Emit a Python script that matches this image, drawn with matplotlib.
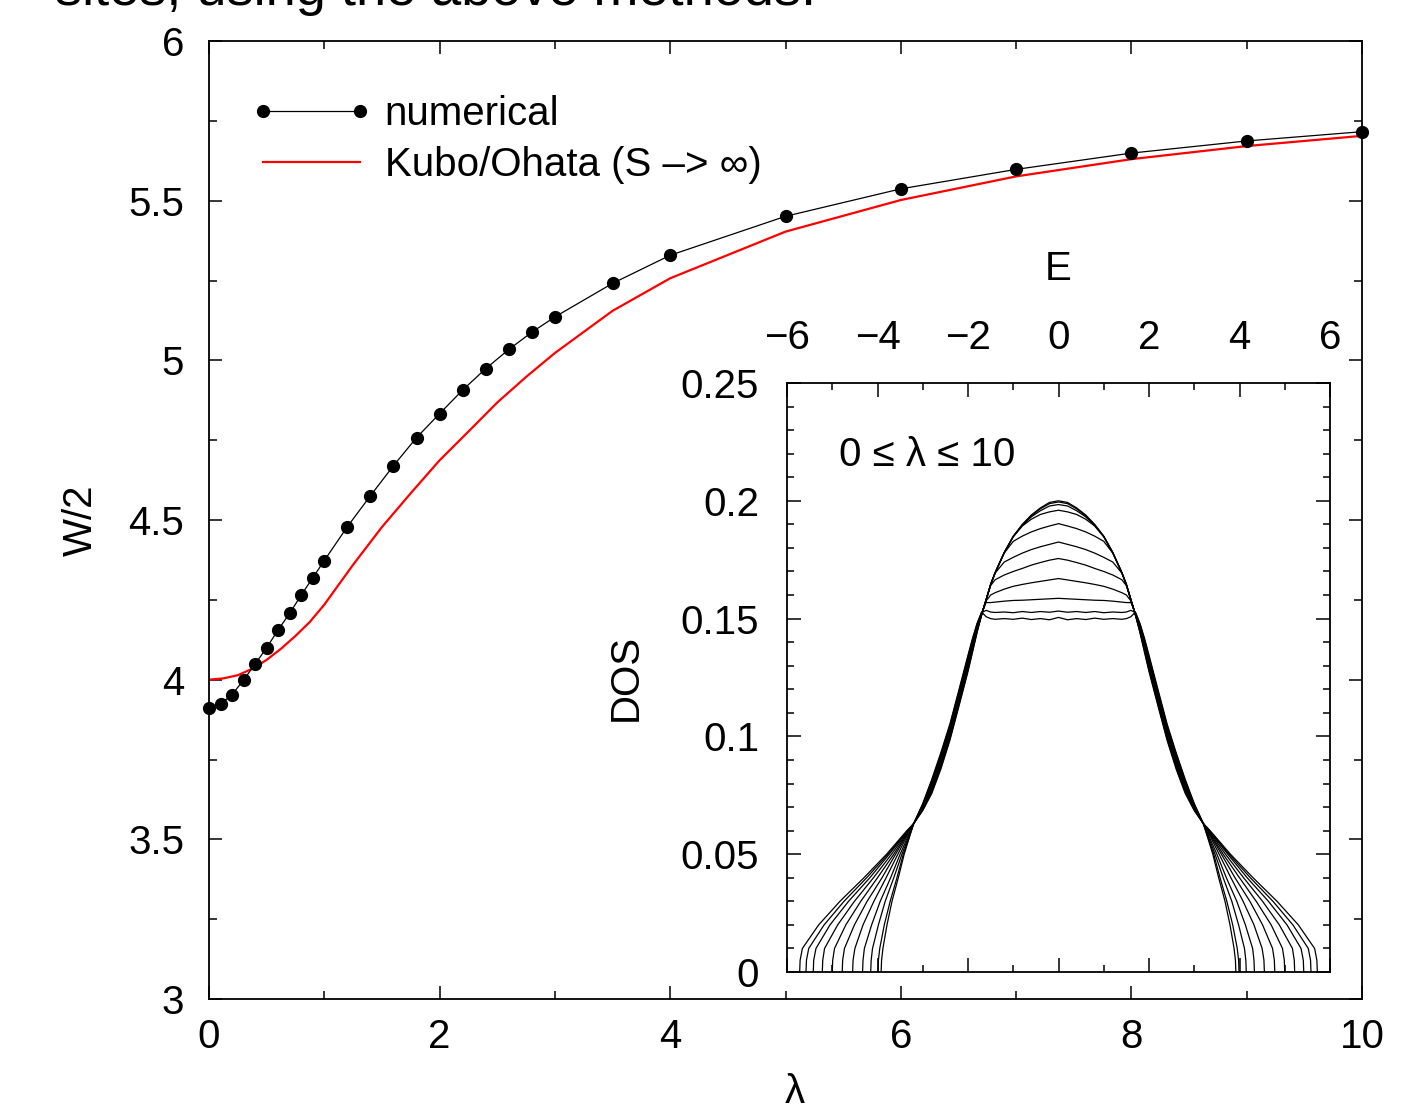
import numpy as np
import matplotlib
matplotlib.use('Agg')
import matplotlib.pyplot as plt
from matplotlib.ticker import MultipleLocator, FixedLocator, FixedFormatter

plt.rcParams['font.family'] = ['Liberation Sans', 'DejaVu Sans']

# ---------------- main panel data ----------------
lam_num = [0, 0.1, 0.2, 0.3, 0.4, 0.5, 0.6, 0.7, 0.8, 0.9, 1.0, 1.2, 1.4, 1.6, 1.8,
           2.0, 2.2, 2.4, 2.6, 2.8, 3.0, 3.5, 4, 5, 6, 7, 8, 9, 10]
w_num = [3.912, 3.924, 3.953, 3.999, 4.049, 4.100, 4.156, 4.208, 4.265, 4.319, 4.373,
         4.479, 4.576, 4.670, 4.758, 4.833, 4.907, 4.974, 5.034, 5.088, 5.136, 5.241,
         5.329, 5.451, 5.537, 5.598, 5.649, 5.687, 5.716]

lam_ko = [0, 0.125, 0.25, 0.375, 0.5, 0.625, 0.75, 0.875, 1.0, 1.25, 1.5, 1.75, 2.0,
          2.25, 2.5, 2.75, 3.0, 3.5, 4, 5, 6, 7, 8, 9, 10]
w_ko = [4.000, 4.004, 4.014, 4.034, 4.062, 4.097, 4.137, 4.181, 4.235, 4.360, 4.478,
        4.584, 4.687, 4.777, 4.868, 4.948, 5.023, 5.155, 5.257, 5.403, 5.502, 5.576,
        5.630, 5.671, 5.703]

main_xticks = [0, 2, 4, 6, 8, 10]
main_xticklabels = ['0', '2', '4', '6', '8', '10']
main_yticks = [3, 3.5, 4, 4.5, 5, 5.5, 6]
main_yticklabels = ['3', '3.5', '4', '4.5', '5', '5.5', '6']

# ---------------- inset data (DOS, symmetric in E; E >= 0 half) ----------------
E_core = [0, 0.2, 0.4, 0.6, 0.8, 1.0, 1.2, 1.4, 1.5, 1.6, 1.7, 1.8, 1.9, 2.0, 2.2,
          2.4, 2.6, 2.8, 3.0]
dos_core = [
    [0.1505, 0.1495, 0.1500, 0.1496, 0.1502, 0.1497, 0.1500, 0.1497, 0.1500, 0.1508,
     0.1528, 0.1480, 0.1417, 0.1345, 0.1198, 0.1053, 0.0931, 0.0818, 0.0715],
    [0.1532, 0.1527, 0.1530, 0.1526, 0.1530, 0.1525, 0.1528, 0.1526, 0.1528, 0.1535,
     0.1525, 0.1476, 0.1411, 0.1338, 0.1191, 0.1046, 0.0924, 0.0812, 0.0712],
    [0.1586, 0.1584, 0.1582, 0.1580, 0.1578, 0.1577, 0.1574, 0.1570, 0.1568, 0.1568,
     0.1522, 0.1472, 0.1405, 0.1331, 0.1184, 0.1039, 0.0917, 0.0806, 0.0709],
    [0.1670, 0.1664, 0.1658, 0.1652, 0.1645, 0.1637, 0.1625, 0.1610, 0.1600, 0.1575,
     0.1520, 0.1468, 0.1399, 0.1324, 0.1177, 0.1032, 0.0910, 0.0800, 0.0706],
    [0.1755, 0.1748, 0.1738, 0.1727, 0.1713, 0.1700, 0.1685, 0.1665, 0.1640, 0.1578,
     0.1519, 0.1464, 0.1393, 0.1317, 0.1170, 0.1025, 0.0903, 0.0794, 0.0703],
    [0.1825, 0.1815, 0.1805, 0.1793, 0.1778, 0.1760, 0.1740, 0.1693, 0.1643, 0.1580,
     0.1518, 0.1460, 0.1387, 0.1310, 0.1163, 0.1018, 0.0896, 0.0788, 0.0700],
    [0.1903, 0.1893, 0.1882, 0.1868, 0.1850, 0.1828, 0.1778, 0.1694, 0.1644, 0.1580,
     0.1517, 0.1456, 0.1381, 0.1303, 0.1156, 0.1011, 0.0889, 0.0782, 0.0697],
    [0.1960, 0.1953, 0.1942, 0.1922, 0.1893, 0.1847, 0.1779, 0.1695, 0.1645, 0.1580,
     0.1516, 0.1452, 0.1375, 0.1296, 0.1149, 0.1004, 0.0882, 0.0776, 0.0694],
    [0.1984, 0.1978, 0.1958, 0.1932, 0.1895, 0.1848, 0.1780, 0.1695, 0.1645, 0.1580,
     0.1515, 0.1448, 0.1369, 0.1289, 0.1142, 0.0997, 0.0875, 0.0770, 0.0691],
    [0.1995, 0.1988, 0.1966, 0.1936, 0.1898, 0.1849, 0.1780, 0.1695, 0.1645, 0.1580,
     0.1515, 0.1444, 0.1363, 0.1282, 0.1135, 0.0990, 0.0868, 0.0764, 0.0688],
    [0.2000, 0.1993, 0.1970, 0.1940, 0.1900, 0.1850, 0.1780, 0.1695, 0.1645, 0.1580,
     0.1515, 0.1440, 0.1357, 0.1275, 0.1128, 0.0983, 0.0861, 0.0758, 0.0685],
]
# tails: E position of each curve at these DOS levels
dos_tail = [0.063, 0.060, 0.050, 0.040, 0.030, 0.020, 0.010, 0.005, 0.0]
E_tail = [
    [3.20, 3.25, 3.41, 3.54, 3.68, 3.79, 3.88, 3.91, 3.92],
    [3.20, 3.25, 3.43, 3.57, 3.72, 3.85, 3.95, 3.98, 3.99],
    [3.20, 3.26, 3.46, 3.64, 3.83, 3.98, 4.11, 4.14, 4.15],
    [3.20, 3.27, 3.50, 3.71, 3.94, 4.13, 4.29, 4.32, 4.33],
    [3.20, 3.29, 3.55, 3.81, 4.08, 4.32, 4.50, 4.54, 4.55],
    [3.20, 3.30, 3.60, 3.90, 4.23, 4.51, 4.73, 4.77, 4.78],
    [3.20, 3.31, 3.64, 4.00, 4.37, 4.70, 4.95, 4.99, 5.00],
    [3.20, 3.32, 3.69, 4.09, 4.51, 4.88, 5.17, 5.21, 5.22],
    [3.20, 3.33, 3.74, 4.17, 4.64, 5.05, 5.36, 5.41, 5.42],
    [3.20, 3.34, 3.77, 4.24, 4.74, 5.18, 5.52, 5.57, 5.58],
    [3.20, 3.35, 3.80, 4.30, 4.83, 5.30, 5.66, 5.71, 5.72],
]

inset_xticks = [-6, -4, -2, 0, 2, 4, 6]
inset_xticklabels = ['\u22126', '\u22124', '\u22122', '0', '2', '4', '6']
inset_yticks = [0, 0.05, 0.1, 0.15, 0.2, 0.25]
inset_yticklabels = ['0', '0.05', '0.1', '0.15', '0.2', '0.25']

FS = 29
W, H = 1404, 1115
fig = plt.figure(figsize=(W / 100, H / 100), dpi=100)

# cut-off body text at the very top (as in the reference)
fig.text(55 / W, 1 - 5 / H, 'sites, using the above methods.', fontsize=39,
         ha='left', va='baseline')

# ---------------- main axes ----------------
ax = fig.add_axes([209 / W, 1 - 999 / H, (1362 - 209) / W, (999 - 41) / H])
ax.plot(lam_ko, w_ko, color='#ff0000', lw=1.6, label='Kubo/Ohata (S \u2013> \u221e)', zorder=2)
ax.plot(lam_num, w_num, color='black', lw=0.9, marker='o', ms=8.5, label='numerical',
        clip_on=False, zorder=3)
ax.set_xlim(0, 10)
ax.set_ylim(3, 6)
ax.xaxis.set_major_locator(FixedLocator(main_xticks))
ax.xaxis.set_major_formatter(FixedFormatter(main_xticklabels))
ax.xaxis.set_minor_locator(MultipleLocator(1))
ax.yaxis.set_major_locator(FixedLocator(main_yticks))
ax.yaxis.set_major_formatter(FixedFormatter(main_yticklabels))
ax.yaxis.set_minor_locator(MultipleLocator(0.25))
ax.tick_params(which='both', direction='in', top=True, right=True, width=1.1,
               labelsize=FS)
ax.tick_params(which='major', length=9.5)
ax.tick_params(which='minor', length=5.5)
ax.tick_params(axis='x', which='major', pad=14)
ax.tick_params(axis='y', which='major', pad=18)
for s in ax.spines.values():
    s.set_linewidth(1.3)
ax.set_xlabel('\u03bb', fontsize=FS)
ax.xaxis.set_label_coords(0.508, -0.077)
ax.set_ylabel('W/2', fontsize=FS)
ax.yaxis.set_label_coords(-0.095, 0.5)

h, l = ax.get_legend_handles_labels()
leg = ax.legend([h[1], h[0]], [l[1], l[0]], loc='upper left',
                bbox_to_anchor=(0.0364, 0.944), frameon=False, fontsize=FS,
                numpoints=2, handlelength=3.0, handletextpad=0.32,
                borderpad=0, borderaxespad=0, labelspacing=0.33)

# ---------------- inset ----------------
ins = fig.add_axes([787 / W, 1 - 972 / H, (1330 - 787) / W, (972 - 383) / H])
for k in range(len(dos_core)):
    e_half = np.array(E_core + E_tail[k])
    d_half = np.array(dos_core[k] + dos_tail)
    e_full = np.concatenate([-e_half[::-1], e_half[1:]])
    d_full = np.concatenate([d_half[::-1], d_half[1:]])
    ins.plot(e_full, d_full, color='black', lw=0.9)
ins.set_xlim(-6, 6)
ins.set_ylim(0, 0.25)
ins.xaxis.set_major_locator(FixedLocator(inset_xticks))
ins.xaxis.set_major_formatter(FixedFormatter(inset_xticklabels))
ins.xaxis.set_minor_locator(MultipleLocator(1))
ins.yaxis.set_major_locator(FixedLocator(inset_yticks))
ins.yaxis.set_major_formatter(FixedFormatter(inset_yticklabels))
ins.yaxis.set_minor_locator(MultipleLocator(0.01))
ins.tick_params(which='both', direction='in', top=True, right=True, bottom=True,
                labeltop=True, labelbottom=False, width=1.1, labelsize=FS)
ins.tick_params(which='major', length=10)
ins.tick_params(which='minor', length=5)
ins.tick_params(axis='x', which='major', pad=19)
ins.tick_params(axis='y', which='major', pad=20)
for s in ins.spines.values():
    s.set_linewidth(1.3)
ins.set_xlabel('E', fontsize=FS)
ins.xaxis.set_label_position('top')
ins.xaxis.set_label_coords(0.5, 1.175)
ins.set_ylabel('DOS', fontsize=FS)
ins.yaxis.set_label_coords(-0.262, 0.5)
ins.text(0.095, 0.878, '0 \u2264 \u03bb \u2264 10', transform=ins.transAxes,
         fontsize=FS, ha='left', va='center')

fig.savefig('out.png', dpi=100)
